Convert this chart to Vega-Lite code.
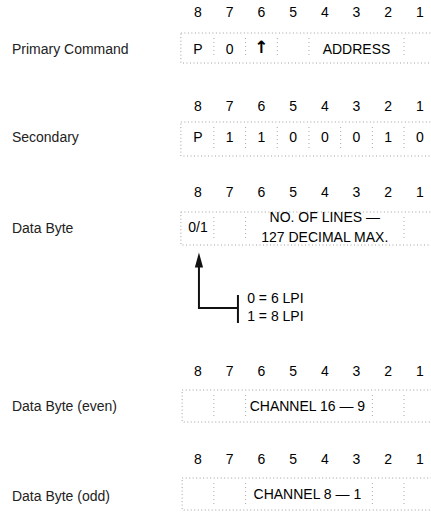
{
  "$schema": "https://vega.github.io/schema/vega-lite/v6.json",
  "width": 431,
  "height": 513,
  "autosize": {"type": "fit", "contains": "padding"},
  "padding": 0,
  "background": "white",
  "config": {"view": {"stroke": null}, "text": {"font": "Liberation Sans", "color": "#000"}},
  "datasets": {
    "boxes": [
      {"x": 0.46, "x2": 9.2, "y": 33, "y2": 63},
      {"x": 0.46, "x2": 9.2, "y": 122, "y2": 156},
      {"x": 0.46, "x2": 9.2, "y": 212, "y2": 245},
      {"x": 0.5, "x2": 9.2, "y": 390, "y2": 422},
      {"x": 0.5, "x2": 9.2, "y": 478, "y2": 510}
    ],
    "seps": [
      {"x": 1.5, "y": 38, "y2": 58}, {"x": 2.5, "y": 38, "y2": 58}, {"x": 3.5, "y": 38, "y2": 58}, {"x": 4.5, "y": 38, "y2": 58}, {"x": 7.5, "y": 38, "y2": 58},
      {"x": 1.5, "y": 127, "y2": 151}, {"x": 2.5, "y": 127, "y2": 151}, {"x": 3.5, "y": 127, "y2": 151}, {"x": 4.5, "y": 127, "y2": 151}, {"x": 5.5, "y": 127, "y2": 151}, {"x": 6.5, "y": 127, "y2": 151}, {"x": 7.5, "y": 127, "y2": 151},
      {"x": 1.5, "y": 217, "y2": 240}, {"x": 2.5, "y": 217, "y2": 240}, {"x": 7.5, "y": 217, "y2": 240},
      {"x": 1.5, "y": 395, "y2": 417}, {"x": 2.5, "y": 395, "y2": 417}, {"x": 6.5, "y": 395, "y2": 417}, {"x": 7.5, "y": 395, "y2": 417},
      {"x": 1.5, "y": 483, "y2": 506}, {"x": 2.5, "y": 483, "y2": 506}, {"x": 6.5, "y": 483, "y2": 506}, {"x": 7.5, "y": 483, "y2": 506}
    ],
    "headers": [
      {"x": 1, "y": 13, "t": "8"}, {"x": 2, "y": 13, "t": "7"}, {"x": 3, "y": 13, "t": "6"}, {"x": 4, "y": 13, "t": "5"}, {"x": 5, "y": 13, "t": "4"}, {"x": 6, "y": 13, "t": "3"}, {"x": 7, "y": 13, "t": "2"}, {"x": 8, "y": 13, "t": "1"},
      {"x": 1, "y": 107, "t": "8"}, {"x": 2, "y": 107, "t": "7"}, {"x": 3, "y": 107, "t": "6"}, {"x": 4, "y": 107, "t": "5"}, {"x": 5, "y": 107, "t": "4"}, {"x": 6, "y": 107, "t": "3"}, {"x": 7, "y": 107, "t": "2"}, {"x": 8, "y": 107, "t": "1"},
      {"x": 1, "y": 193, "t": "8"}, {"x": 2, "y": 193, "t": "7"}, {"x": 3, "y": 193, "t": "6"}, {"x": 4, "y": 193, "t": "5"}, {"x": 5, "y": 193, "t": "4"}, {"x": 6, "y": 193, "t": "3"}, {"x": 7, "y": 193, "t": "2"}, {"x": 8, "y": 193, "t": "1"},
      {"x": 1, "y": 372, "t": "8"}, {"x": 2, "y": 372, "t": "7"}, {"x": 3, "y": 372, "t": "6"}, {"x": 4, "y": 372, "t": "5"}, {"x": 5, "y": 372, "t": "4"}, {"x": 6, "y": 372, "t": "3"}, {"x": 7, "y": 372, "t": "2"}, {"x": 8, "y": 372, "t": "1"},
      {"x": 1, "y": 460, "t": "8"}, {"x": 2, "y": 460, "t": "7"}, {"x": 3, "y": 460, "t": "6"}, {"x": 4, "y": 460, "t": "5"}, {"x": 5, "y": 460, "t": "4"}, {"x": 6, "y": 460, "t": "3"}, {"x": 7, "y": 460, "t": "2"}, {"x": 8, "y": 460, "t": "1"}
    ],
    "cells": [
      {"x": 1, "y": 50, "t": "P"}, {"x": 2, "y": 50, "t": "0"}, {"x": 6, "y": 50, "t": "ADDRESS"},
      {"x": 1, "y": 138, "t": "P"}, {"x": 2, "y": 138, "t": "1"}, {"x": 3, "y": 138, "t": "1"}, {"x": 4, "y": 138, "t": "0"}, {"x": 5, "y": 138, "t": "0"}, {"x": 6, "y": 138, "t": "0"}, {"x": 7, "y": 138, "t": "1"}, {"x": 8, "y": 138, "t": "0"},
      {"x": 1, "y": 228, "t": "0/1"},
      {"x": 5, "y": 218, "t": "NO. OF LINES —"}, {"x": 5, "y": 238, "t": "127 DECIMAL MAX."},
      {"x": 4.45, "y": 407, "t": "CHANNEL 16 — 9"},
      {"x": 4.45, "y": 495, "t": "CHANNEL 8 — 1"}
    ],
    "glyphs": [
      {"x": 3, "y": 48, "t": "↑"}
    ],
    "labels": [
      {"x": -4.87, "y": 50, "t": "Primary Command"},
      {"x": -4.87, "y": 138, "t": "Secondary"},
      {"x": -4.87, "y": 229, "t": "Data Byte"},
      {"x": -4.87, "y": 407, "t": "Data Byte (even)"},
      {"x": -4.87, "y": 497, "t": "Data Byte (odd)"}
    ],
    "lpi": [
      {"x": 2.55, "y": 299, "t": "0 = 6 LPI"},
      {"x": 2.55, "y": 317, "t": "1 = 8 LPI"}
    ],
    "vlines": [
      {"x": 1.03, "y": 262, "y2": 309},
      {"x": 2.26, "y": 295, "y2": 323}
    ],
    "hlines": [
      {"x": 1.03, "x2": 2.26, "y": 308}
    ],
    "heads": [
      {"x": 1.03, "y": 260}
    ]
  },
  "encoding": {
    "x": {"field": "x", "type": "quantitative", "scale": {"domain": [-5.246, 8.35], "nice": false, "zero": false}, "axis": null},
    "y": {"field": "y", "type": "quantitative", "scale": {"domain": [0, 513], "reverse": true, "nice": false, "zero": false}, "axis": null}
  },
  "layer": [
    {
      "data": {"name": "boxes"},
      "mark": {"type": "rect", "filled": false, "stroke": "#a0a0a0", "strokeWidth": 1, "strokeDash": [1, 2.5], "clip": true},
      "encoding": {"x2": {"field": "x2"}, "y2": {"field": "y2"}}
    },
    {
      "data": {"name": "seps"},
      "mark": {"type": "rule", "stroke": "#a8a8a8", "strokeWidth": 1, "strokeDash": [1, 3]},
      "encoding": {"y2": {"field": "y2"}}
    },
    {
      "data": {"name": "headers"},
      "mark": {"type": "text", "fontSize": 14, "align": "center", "baseline": "middle"},
      "encoding": {"text": {"field": "t"}}
    },
    {
      "data": {"name": "cells"},
      "mark": {"type": "text", "fontSize": 14, "align": "center", "baseline": "middle"},
      "encoding": {"text": {"field": "t"}}
    },
    {
      "data": {"name": "glyphs"},
      "mark": {"type": "text", "fontSize": 17, "fontWeight": "bold", "font": "DejaVu Sans", "align": "center", "baseline": "middle"},
      "encoding": {"text": {"field": "t"}}
    },
    {
      "data": {"name": "labels"},
      "mark": {"type": "text", "fontSize": 14, "align": "left", "baseline": "middle", "color": "#222"},
      "encoding": {"text": {"field": "t"}}
    },
    {
      "data": {"name": "lpi"},
      "mark": {"type": "text", "fontSize": 14, "align": "left", "baseline": "middle"},
      "encoding": {"text": {"field": "t"}}
    },
    {
      "data": {"name": "vlines"},
      "mark": {"type": "rule", "stroke": "#111", "strokeWidth": 2},
      "encoding": {"y2": {"field": "y2"}}
    },
    {
      "data": {"name": "hlines"},
      "mark": {"type": "rule", "stroke": "#111", "strokeWidth": 2},
      "encoding": {"x2": {"field": "x2"}}
    },
    {
      "data": {"name": "heads"},
      "mark": {"type": "point", "shape": "M0,-1L0.55,1L-0.55,1Z", "filled": true, "color": "#111", "opacity": 1, "size": 225},
      "encoding": {}
    }
  ]
}
